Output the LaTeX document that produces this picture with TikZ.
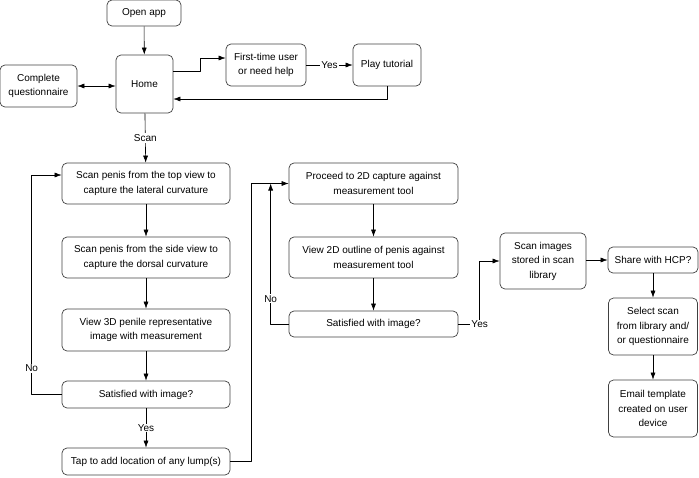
\documentclass[tikz,border=0pt]{standalone}
\usepackage{fontspec}
\setmainfont{Liberation Sans}
\usetikzlibrary{arrows.meta}
\tikzset{box/.style={draw=black!75,line width=0.7pt,rounded corners=5pt,align=center,inner sep=0pt,font=\fontsize{10}{14.5}\selectfont},
  lbl/.style={fill=white,inner sep=1pt,font=\fontsize{10}{12}\selectfont}}

\begin{document}
\begin{tikzpicture}[>={Latex[length=7pt,width=5pt]},line join=bevel,line width=0.6pt,x=1pt,y=-1pt]
\useasboundingbox (0,0) rectangle (699,477);
%%
\node (node_0) at (144,13) [box,minimum width=74pt,minimum height=26pt] {Open app};
  \node (node_1) at (144.5,84) [box,minimum width=57pt,minimum height=58pt] {Home};
  \node (node_2) at (38.5,86) [box,minimum width=77pt,minimum height=42pt] {Complete\\questionnaire};
  \node (node_3) at (266,65) [box,minimum width=80pt,minimum height=42pt] {First-time user\\or need help};
  \node (node_4) at (387,65) [box,minimum width=68pt,minimum height=42pt] {Play tutorial};
  \node (node_5) at (146,183.5) [box,minimum width=168pt,minimum height=41pt] {Scan penis from the top view to\\capture the lateral curvature};
  \node (node_6) at (146,257.5) [box,minimum width=168pt,minimum height=41pt] {Scan penis from the side view to\\capture the dorsal curvature};
  \node (node_7) at (146,330) [box,minimum width=168pt,minimum height=42pt] {View 3D penile representative\\image with measurement};
  \node (node_8) at (146,394.5) [box,minimum width=168pt,minimum height=27pt] {Satisfied with image?};
  \node (node_9) at (146,461.5) [box,minimum width=168pt,minimum height=27pt] {Tap to add location of any lump(s)};
  \node (node_10) at (373.5,183.5) [box,minimum width=169pt,minimum height=41pt] {Proceed to 2D capture against\\measurement tool};
  \node (node_11) at (373.5,257.5) [box,minimum width=169pt,minimum height=41pt] {View 2D outline of penis against\\measurement tool};
  \node (node_12) at (373.5,324) [box,minimum width=169pt,minimum height=26pt] {Satisfied with image?};
  \node (node_13) at (543,261) [box,minimum width=86pt,minimum height=56pt] {Scan images\\stored in scan\\library};
  \node (node_14) at (653,260) [box,minimum width=90pt,minimum height=26pt] {Share with HCP?};
  \node (node_15) at (653,326.5) [box,minimum width=89pt,minimum height=57pt] {Select scan\\from library and/\\or questionnaire};
  \node (node_16) at (653,408.5) [box,minimum width=89pt,minimum height=57pt] {Email template\\created on user\\device};
  \draw [black,->] (node_0) -- (node_1);
  \draw [black,<->] (node_2.east) -- (node_2.east -| node_1.west);
  \draw [black,->] ([yshift=13pt]node_1.east) -- ++(27,0) |- ([yshift=7pt]node_3.west);
  \draw [black,->] (node_3) -- node[lbl] {Yes} (node_4);
  \draw [black,->] (node_4.south) |- ([yshift=-15pt]node_1.east);
  \draw [black,->] (node_1) -- node[lbl] {Scan} (node_5);
  \draw [black,->] (node_5) -- (node_6);
  \draw [black,->] (node_6) -- (node_7);
  \draw [black,->] (node_7) -- (node_8);
  \draw [black,->] (node_8) -- node[lbl] {Yes} (node_9);
  \draw [black,->] (node_8.west) -| node[lbl,pos=0.56] {No} ([xshift=-30pt,yshift=8.5pt]node_5.west) -- ([yshift=8.5pt]node_5.west);
  \draw [black,->] (node_9.east) -| ([xshift=-37pt]node_10.west) -- (node_10.west);
  \draw [black,->] (node_10) -- (node_11);
  \draw [black,->] (node_11) -- (node_12);
  \draw [black,->] (node_12.west) -| node[lbl,pos=0.59] {No} ([xshift=-18pt]node_10.west);
  \draw [black,->] (node_12.east) -| node[lbl,pos=0.5] {Yes} ([xshift=-20pt]node_13.west) -- (node_13.west);
  \draw [black,->] (node_13.east |- node_14) -- (node_14);
  \draw [black,->] (node_14) -- (node_15);
  \draw [black,->] (node_15) -- (node_16);
%
\end{tikzpicture}
\end{document}
